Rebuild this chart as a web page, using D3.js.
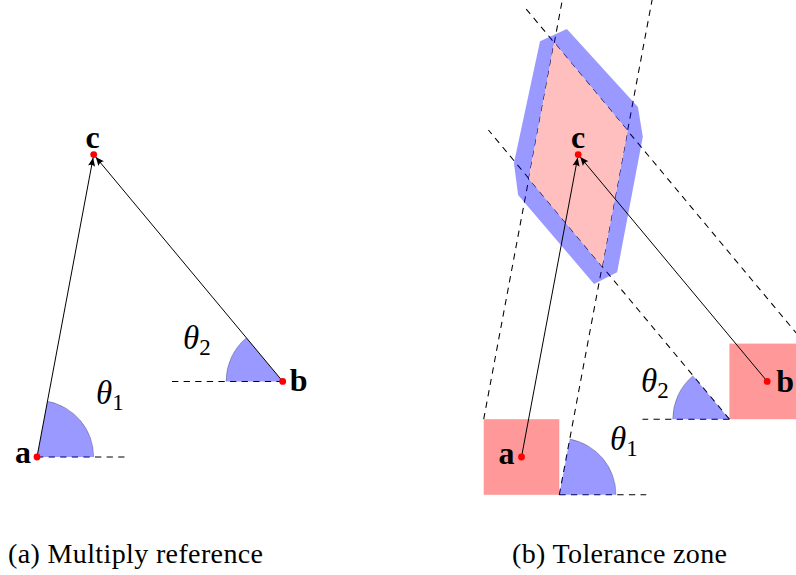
<!DOCTYPE html>
<html>
<head>
<meta charset="utf-8">
<script src="https://cdn.jsdelivr.net/npm/d3@7"></script>
<style>
  html, body { margin: 0; padding: 0; background: #fff; }
  svg { display: block; }
</style>
</head>
<body>
<svg id="fig" width="796" height="575"></svg>
<script>
// Reference points (plane units, origin at a)
const pointNames = ["a", "b", "c"];
const pointX = [0, 6.5, 1.5];
const pointY = [0, 2, 8];

// Half side of the tolerance square around a and b
const squareHalf = 1;
// Radius of the angle wedges
const wedgeRadius = 1.5;

// Tolerance zone outline around c (panel b)
const zoneX = [0.49, 1.2, 3.08, 3.21, 2.53, 1.92, -0.09, -0.2];
const zoneY = [11.0, 11.32, 9.26, 8.47, 4.89, 4.58, 6.93, 7.78];

// How far each band edge runs, as a multiple of its reference vector
const bandStartA = [[-1, 1], [1, -1]];   // corners of square a
const bandReachA = [1.39, 1.64];
const bandStartB = [[5.5, 1], [7.5, 3]]; // corners of square b
const bandReachB = [1.275, 1.487];

// Captions
const captions = ["(a) Multiply reference", "(b) Tolerance zone"];

const svg = d3.select("#fig");
const unit = 37.8;

const P = name => {
  const i = pointNames.indexOf(name);
  return [pointX[i], pointY[i]];
};
const A = P("a"), B = P("b"), C = P("c");
const vAC = [C[0] - A[0], C[1] - A[1]];
const vBC = [C[0] - B[0], C[1] - B[1]];
const theta1 = Math.atan2(vAC[1], vAC[0]);            // from +x
const theta2 = Math.atan2(vBC[1], -vBC[0]);           // from -x

const y = d3.scaleLinear().domain([0, 1]).range([457, 457 - unit]);
const xLeft = d3.scaleLinear().domain([0, 1]).range([37, 37 + unit]);
const xRight = d3.scaleLinear().domain([0, 1]).range([521.5, 521.5 + unit]);
const rPx = wedgeRadius * unit;

// Arrowhead
const defs = svg.append("defs");
defs.append("marker")
  .attr("id", "tip")
  .attr("viewBox", "-10 -5 11 10")
  .attr("refX", 0).attr("refY", 0)
  .attr("markerWidth", 11).attr("markerHeight", 10)
  .attr("markerUnits", "userSpaceOnUse")
  .attr("orient", "auto")
  .append("path")
  .attr("d", "M0,0 L-8.5,-3.6 Q-6.2,0 -8.5,3.6 Z")
  .attr("fill", "#000");

function dashed(g, x, p0, p1) {
  g.append("line")
    .attr("x1", x(p0[0])).attr("y1", y(p0[1]))
    .attr("x2", x(p1[0])).attr("y2", y(p1[1]))
    .attr("stroke", "#000").attr("stroke-width", 1.05)
    .attr("stroke-dasharray", "6.3,5.3");
}

// Wedge: math angles (ccw from +x), from phi0 to phi1
function wedge(g, x, ctr, phi0, phi1) {
  const cx = x(ctr[0]), cy = y(ctr[1]);
  const fill = d3.arc().innerRadius(0).outerRadius(rPx)
    .startAngle(Math.PI / 2 - phi1).endAngle(Math.PI / 2 - phi0);
  g.append("path")
    .attr("transform", `translate(${cx},${cy})`)
    .attr("d", fill())
    .attr("fill", "#0000ff").attr("fill-opacity", 0.4);
  const curve = d3.path();
  curve.arc(cx, cy, rPx, -phi0, -phi1, true);
  g.append("path")
    .attr("d", curve.toString())
    .attr("fill", "none")
    .attr("stroke", "#000").attr("stroke-opacity", 0.35)
    .attr("stroke-width", 0.7);
}

function arrow(g, x, from, to) {
  const x1 = x(from[0]), y1 = y(from[1]);
  const x2 = x(to[0]), y2 = y(to[1]);
  const len = Math.hypot(x2 - x1, y2 - y1);
  const k = (len - 3.2) / len;
  g.append("line")
    .attr("x1", x1).attr("y1", y1)
    .attr("x2", x1 + (x2 - x1) * k).attr("y2", y1 + (y2 - y1) * k)
    .attr("stroke", "#000").attr("stroke-width", 1)
    .attr("marker-end", "url(#tip)");
}

function dot(g, x, p) {
  g.append("circle")
    .attr("cx", x(p[0])).attr("cy", y(p[1]))
    .attr("r", 3.4).attr("fill", "#ff0000");
}

const labelFont = "Liberation Serif, DejaVu Serif, serif";

function pointLabel(g, x, p, text, dx, dy, anchor) {
  g.append("text")
    .attr("x", x(p[0]) + dx).attr("y", y(p[1]) + dy)
    .attr("text-anchor", anchor)
    .attr("font-family", labelFont)
    .attr("font-weight", "bold")
    .attr("font-size", 32)
    .attr("fill", "#000")
    .text(text);
}

function thetaLabel(g, px, py, sub) {
  const t = g.append("text")
    .attr("x", px).attr("y", py)
    .attr("font-family", labelFont)
    .attr("fill", "#000");
  t.append("tspan").attr("font-style", "italic").attr("font-size", 33).text("θ");
  t.append("tspan").attr("font-size", 23).attr("dy", 6).text(sub);
}

// ---------- Panel (a) ----------
const gA = svg.append("g");
dashed(gA, xLeft, A, [A[0] + 2.33, A[1]]);
dashed(gA, xLeft, B, [B[0] - 3.0, B[1]]);
wedge(gA, xLeft, A, 0, theta1);
wedge(gA, xLeft, B, Math.PI - theta2, Math.PI);
arrow(gA, xLeft, A, C);
arrow(gA, xLeft, B, C);
[A, B, C].forEach(p => dot(gA, xLeft, p));
pointLabel(gA, xLeft, A, "a", -6, 6, "end");
pointLabel(gA, xLeft, B, "b", 7, 10, "start");
pointLabel(gA, xLeft, C, "c", -1, -7, "middle");
thetaLabel(gA, 96, 404, "1");
thetaLabel(gA, 183, 349, "2");

// ---------- Panel (b) ----------
const gB = svg.append("g");

// Tolerance squares around a and b
[A, B].forEach(p => {
  gB.append("rect")
    .attr("x", xRight(p[0] - squareHalf))
    .attr("y", y(p[1] + squareHalf))
    .attr("width", xRight(p[0] + squareHalf) - xRight(p[0] - squareHalf))
    .attr("height", y(p[1] - squareHalf) - y(p[1] + squareHalf))
    .attr("fill", "#ff0000").attr("fill-opacity", 0.4);
});

// Band edges through the square corners
bandStartA.forEach((s, i) => {
  const t = bandReachA[i];
  dashed(gB, xRight, s, [s[0] + t * vAC[0], s[1] + t * vAC[1]]);
});
bandStartB.forEach((s, i) => {
  const t = bandReachB[i];
  dashed(gB, xRight, s, [s[0] + t * vBC[0], s[1] + t * vBC[1]]);
});

// Angle bases at the square corners
const cornerA = bandStartA[1], cornerB = bandStartB[0];
dashed(gB, xRight, cornerA, [cornerA[0] + 2.3, cornerA[1]]);
dashed(gB, xRight, cornerB, [cornerB[0] - 2.3, cornerB[1]]);

// Intersection of the two bands (parallelogram)
function meet(p, u, q, v) {
  const det = u[0] * (-v[1]) - u[1] * (-v[0]);
  const rx = q[0] - p[0], ry = q[1] - p[1];
  const s = (rx * (-v[1]) - ry * (-v[0])) / det;
  return [p[0] + s * u[0], p[1] + s * u[1]];
}
const rhombus = [
  meet(bandStartA[0], vAC, bandStartB[1], vBC),
  meet(bandStartA[1], vAC, bandStartB[1], vBC),
  meet(bandStartA[1], vAC, bandStartB[0], vBC),
  meet(bandStartA[0], vAC, bandStartB[0], vBC)
];

const line = d3.line().x(d => xRight(d[0])).y(d => y(d[1]));
const zone = zoneX.map((v, i) => [v, zoneY[i]]);

// Outer tolerance ring (zone minus parallelogram), then the parallelogram
gB.append("path")
  .attr("d", line(zone) + "Z" + line(rhombus) + "Z")
  .attr("fill", "#0000ff").attr("fill-opacity", 0.4)
  .attr("fill-rule", "evenodd");
gB.append("path")
  .attr("d", line(rhombus) + "Z")
  .attr("fill", "#ffbfbf");

wedge(gB, xRight, cornerA, 0, theta1);
wedge(gB, xRight, cornerB, Math.PI - theta2, Math.PI);

arrow(gB, xRight, A, C);
arrow(gB, xRight, B, C);
[A, B, C].forEach(p => dot(gB, xRight, p));
pointLabel(gB, xRight, A, "a", -7, 7, "end");
pointLabel(gB, xRight, B, "b", 9, 11, "start");
pointLabel(gB, xRight, C, "c", 0, -7, "middle");
thetaLabel(gB, 610, 450, "1");
thetaLabel(gB, 641, 392, "2");

// Captions
const capX = [8, 512];
const capW = [255, 215];
captions.forEach((c, i) => {
  svg.append("text")
    .attr("x", capX[i]).attr("y", 563)
    .attr("font-family", labelFont)
    .attr("font-size", 28)
    .attr("textLength", capW[i])
    .attr("lengthAdjust", "spacing")
    .attr("fill", "#000")
    .text(c);
});
</script>
</body>
</html>
